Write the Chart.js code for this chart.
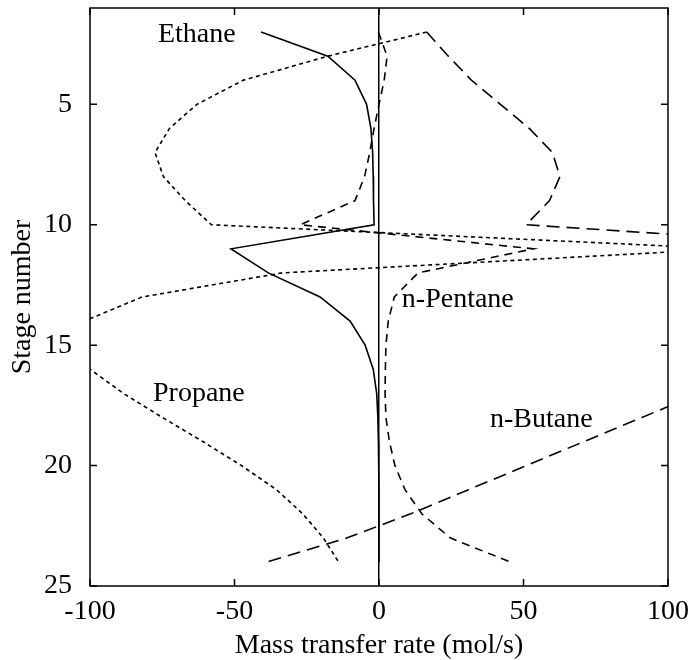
<!DOCTYPE html>
<html>
<head>
<meta charset="utf-8">
<script src="https://cdn.jsdelivr.net/npm/chart.js@4"></script>
<style>
    html, body { margin: 0; padding: 0; background: #fff; }
    #wrap { width: 691px; height: 660px; }
</style>
</head>
<body>
<div id="wrap"><canvas id="chart"></canvas></div>
<script>
// Stage numbers and mass transfer rates (mol/s)
const stages  = [2, 3, 4, 5, 6, 7, 8, 9, 10, 11, 12, 13, 14, 15, 16, 17, 18, 19, 20, 21, 22, 23, 24];
const ethane  = [-40.8, -17.7, -8.3, -4.3, -2.8, -2.2, -2.0, -1.9, -1.7, -51.2, -38.3, -20.4, -10, -4.8, -2, -0.8, -0.4, -0.2, -0.1, 0, 0, 0, 0];
const propane = [16.5, -17.7, -47, -63, -72.5, -77.5, -74.6, -67, -58, 121, -33.5, -82, -102, -120, -100, -88.5, -75, -61, -47.6, -35.5, -26.4, -19.3, -14];
const butane  = [16.5, 24, 32, 42, 52, 60, 62.6, 59, 50.9, 178, 170, 160, 148, 136, 124, 111, 91, 71, 51, 31, 11, -11, -38.8];
const pentane = [-0.2, 2.8, 1.8, 0, -1.7, -3.2, -5, -8.3, -27.3, 53.4, 13.5, 5.3, 3.2, 2.4, 2.2, 2.1, 2.4, 3.6, 5.5, 9, 14.8, 24.6, 45.3];

const xTicks = [-100, -50, 0, 50, 100];
const yTicks = [5, 10, 15, 20, 25];

// Curve labels: [text, x, stage]
const curveLabels = [
    ['Ethane', -76.5, 2.1],
    ['Propane', -78.2, 17.0],
    ['n-Pentane', 7.9, 13.1],
    ['n-Butane', 38.4, 18.1]
];

const FONT = "'Liberation Serif', 'Times New Roman', serif";

function toPoints(values) {
    return values.map((v, i) => ({ x: v, y: stages[i] }));
}

function series(label, values, dash) {
    return {
        label: label,
        data: toPoints(values),
        showLine: true,
        borderColor: '#000',
        borderWidth: 1.6,
        borderDash: dash,
        pointRadius: 0,
        fill: false
    };
}

// MATLAB-like box with inward ticks, plus the curve names
const frame = {
    id: 'frame',
    afterDatasetsDraw(chart) {
        const ctx = chart.ctx;
        const a = chart.chartArea;
        const xs = chart.scales.x;
        const ys = chart.scales.y;
        const len = 7;

        ctx.save();
        ctx.strokeStyle = '#000';
        ctx.lineWidth = 1.5;
        ctx.setLineDash([]);
        ctx.strokeRect(a.left, a.top, a.right - a.left, a.bottom - a.top);

        ctx.beginPath();
        xTicks.forEach(v => {
            const px = xs.getPixelForValue(v);
            ctx.moveTo(px, a.bottom); ctx.lineTo(px, a.bottom - len);
            ctx.moveTo(px, a.top); ctx.lineTo(px, a.top + len);
        });
        yTicks.forEach(v => {
            const py = ys.getPixelForValue(v);
            ctx.moveTo(a.left, py); ctx.lineTo(a.left + len, py);
            ctx.moveTo(a.right, py); ctx.lineTo(a.right - len, py);
        });
        ctx.stroke();

        ctx.fillStyle = '#000';
        ctx.font = '28px ' + FONT;
        ctx.textAlign = 'left';
        ctx.textBaseline = 'middle';
        curveLabels.forEach(l => {
            ctx.fillText(l[0], xs.getPixelForValue(l[1]), ys.getPixelForValue(l[2]));
        });
        ctx.restore();
    }
};

new Chart(document.getElementById('chart'), {
    type: 'scatter',
    data: {
        datasets: [
            series('Ethane', ethane, []),
            series('Propane', propane, [4, 3.5]),
            series('n-Butane', butane, [13, 7]),
            series('n-Pentane', pentane, [8, 6])
        ]
    },
    options: {
        responsive: true,
        maintainAspectRatio: false,
        animation: false,
        layout: { padding: { top: 8, right: 23, left: 0, bottom: 0 } },
        plugins: {
            legend: { display: false },
            tooltip: { enabled: false }
        },
        scales: {
            x: {
                type: 'linear',
                min: -100,
                max: 100,
                afterBuildTicks: s => { s.ticks = xTicks.map(v => ({ value: v })); },
                afterFit: s => { s.height = 74; s.paddingLeft = 0; s.paddingRight = 0; },
                ticks: {
                    color: '#000',
                    padding: 9,
                    maxRotation: 0,
                    font: { family: FONT, size: 28 }
                },
                grid: {
                    drawTicks: false,
                    lineWidth: 1.5,
                    color: c => (c.tick && c.tick.value === 0 ? '#000' : 'rgba(0,0,0,0)')
                },
                border: { display: false },
                title: {
                    display: true,
                    text: 'Mass transfer rate (mol/s)',
                    color: '#000',
                    padding: { top: 0, bottom: 0 },
                    font: { family: FONT, size: 28, lineHeight: 1 }
                }
            },
            y: {
                type: 'linear',
                reverse: true,
                min: 1,
                max: 25,
                afterBuildTicks: s => { s.ticks = yTicks.map(v => ({ value: v })); },
                afterFit: s => { s.width = 90; s.paddingTop = 0; s.paddingBottom = 0; },
                ticks: {
                    color: '#000',
                    padding: 10,
                    font: { family: FONT, size: 28 }
                },
                grid: { display: false },
                border: { display: false },
                title: {
                    display: true,
                    text: 'Stage number',
                    color: '#000',
                    padding: { top: 6, bottom: 0 },
                    font: { family: FONT, size: 28 }
                }
            }
        }
    },
    plugins: [frame]
});
</script>
</body>
</html>
